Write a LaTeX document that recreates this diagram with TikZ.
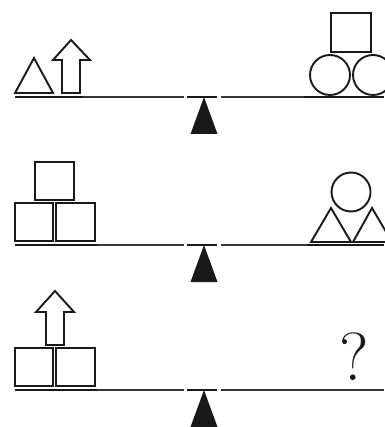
\documentclass[tikz,border=0pt]{standalone}
\usepackage{fontspec}
\usetikzlibrary{positioning,calc}
\definecolor{inkColor}{RGB}{25,25,25}
\definecolor{beamColor}{RGB}{55,55,55}

\begin{document}
\begin{tikzpicture}[x=1pt,y=-1pt]
  \tikzstyle{outline} = [draw=inkColor,line width=1.9pt,line join=miter,fill=white]
  \tikzstyle{beam} = [draw=beamColor,line width=1.3pt]
  \tikzstyle{pad} = [draw=inkColor,line width=2.4pt]
  \tikzstyle{pivot} = [fill=inkColor]
  \tikzstyle{query} = [inner sep=0pt,text=inkColor,font=\fontsize{68}{68}\selectfont]

  \useasboundingbox (0,0) rectangle (384,427);

  % beams and pivots
  \foreach \y in {97,245,390} {
    \draw[beam] (15,\y) -- (184,\y);
    \draw[beam] (221,\y) -- (384,\y);
    \draw[pad] (187,\y) -- (217,\y);
    \fill[pivot] (204,\y) -- (217.5,\y+37) -- (190.5,\y+37) -- cycle;
  }

  % first balance
  \draw[pad] (15,97) -- (83,97);
  \draw[pad] (304,97) -- (384,97);
  \draw[outline] (15,93) -- (34,58) -- (53,93) -- cycle;
  \draw[outline] (62,93) -- (62,60) -- (53,60) -- (71,40) -- (90,60) -- (80,60) -- (80,93) -- cycle;
  \draw[outline] (330,75) circle (20);
  \draw[outline] (373,75) circle (20);
  \draw[outline] (331,13) rectangle (371,52);

  % second balance
  \draw[pad] (15,245) -- (97,245);
  \draw[pad] (307,245) -- (384,245);
  \draw[outline] (15,203) rectangle (53,241);
  \draw[outline] (56,203) rectangle (95,241);
  \draw[outline] (35,162) rectangle (74,200);
  \draw[outline] (311,242) -- (331,208) -- (351,242) -- cycle;
  \draw[outline] (353,242) -- (372,208) -- (392,242) -- cycle;
  \draw[outline] (351,192) circle (19.5);

  % third balance
  \draw[pad] (15,390) -- (97,390);
  \draw[outline] (15,348) rectangle (53,386);
  \draw[outline] (56,348) rectangle (95,386);
  \draw[outline] (46,345) -- (46,312) -- (36,312) -- (55,291) -- (74,312) -- (64,312) -- (64,345) -- cycle;
  \node[query] (unknown) at (354,357) {?};
\end{tikzpicture}
\end{document}
